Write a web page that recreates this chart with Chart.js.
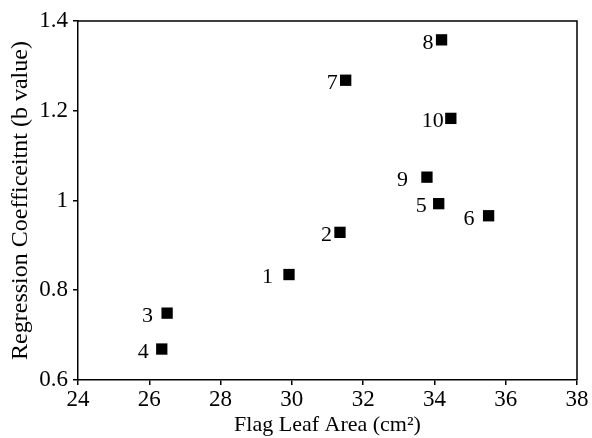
<!DOCTYPE html>
<html>
<head>
<meta charset="utf-8">
<script src="https://cdn.jsdelivr.net/npm/chart.js@4.4.1/dist/chart.umd.min.js"></script>
<style>
  html, body { margin: 0; padding: 0; background: #fff; }
  #wrap { width: 592px; height: 438px; }
</style>
</head>
<body>
<div id="wrap"><canvas id="c" width="592" height="438"></canvas></div>
<script>
// Data
const genotypeLabels = ["1", "2", "3", "4", "5", "6", "7", "8", "9", "10"];
const flagLeafArea   = [29.92, 31.35, 26.50, 26.35, 34.12, 35.52, 31.51, 34.20, 33.79, 34.46];
const bValues        = [0.835, 0.929, 0.749, 0.669, 0.993, 0.966, 1.268, 1.358, 1.052, 1.183];
const xTicks = [24, 26, 28, 30, 32, 34, 36, 38];
const yTicks = [0.6, 0.8, 1, 1.2, 1.4];

// Label placement (style only): gap in px between label and marker
const labelGaps = [10, 2, 8, 7, 6, 8, 2, 2, 13, 1];

const FONT = "'Liberation Serif', 'Times New Roman', serif";

const points = flagLeafArea.map((x, i) => ({ x: x, y: bValues[i] }));

const labelPlugin = {
  id: 'pointLabels',
  afterDatasetsDraw(chart) {
    const ctx = chart.ctx;
    const meta = chart.getDatasetMeta(0);
    ctx.save();
    ctx.font = "22px " + FONT;
    ctx.fillStyle = '#000';
    ctx.textAlign = 'right';
    ctx.textBaseline = 'middle';
    meta.data.forEach((el, i) => {
      const half = 6;
      ctx.fillText(genotypeLabels[i], el.x - half - labelGaps[i], el.y + 3);
    });
    ctx.restore();
  }
};

const framePlugin = {
  id: 'frame',
  afterDraw(chart) {
    const a = chart.chartArea;
    const ctx = chart.ctx;
    ctx.save();
    ctx.strokeStyle = '#000';
    ctx.lineWidth = 1.5;
    ctx.beginPath();
    ctx.moveTo(a.left, a.top);
    ctx.lineTo(a.right, a.top);
    ctx.lineTo(a.right, a.bottom);
    ctx.stroke();
    ctx.restore();
  }
};

new Chart(document.getElementById('c'), {
  type: 'scatter',
  data: {
    datasets: [{
      data: points,
      pointStyle: 'rect',
      pointRadius: 8,
      pointHoverRadius: 8,
      borderWidth: 0,
      backgroundColor: '#000',
      borderColor: '#000'
    }]
  },
  options: {
    responsive: false,
    animation: false,
    devicePixelRatio: 1,
    layout: { padding: { left: 0, top: 21, right: 15, bottom: 0 } },
    plugins: { legend: { display: false }, tooltip: { enabled: false } },
    scales: {
      x: {
        type: 'linear',
        min: 24, max: 38,
        afterBuildTicks: (s) => { s.ticks = xTicks.map(v => ({ value: v })); },
        afterFit: (s) => { s.height = 58; },
        grid: { drawOnChartArea: false, drawTicks: true, tickLength: 5, color: '#000', lineWidth: 1.5 },
        border: { display: true, color: '#000', width: 1.5 },
        ticks: { color: '#000', font: { family: FONT, size: 23 }, padding: 1, maxRotation: 0 },
        title: { display: true, text: 'Flag Leaf Area (cm²)', color: '#000', font: { family: FONT, size: 22 }, padding: { top: 0, bottom: 0 } }
      },
      y: {
        type: 'linear',
        min: 0.6, max: 1.4,
        afterBuildTicks: (s) => { s.ticks = yTicks.map(v => ({ value: v })); },
        afterFit: (s) => { s.width = 78; },
        grid: { drawOnChartArea: false, drawTicks: true, tickLength: 5, color: '#000', lineWidth: 1.5 },
        border: { display: true, color: '#000', width: 1.5 },
        ticks: { color: '#000', font: { family: FONT, size: 23 }, padding: 5,
                 callback: (v) => String(Math.round(v * 10) / 10) },
        title: { display: true, text: 'Regression Coefficeitnt (b value)', color: '#000', font: { family: FONT, size: 24 }, padding: { top: 6, bottom: 4 } }
      }
    }
  },
  plugins: [labelPlugin, framePlugin]
});
</script>
</body>
</html>
